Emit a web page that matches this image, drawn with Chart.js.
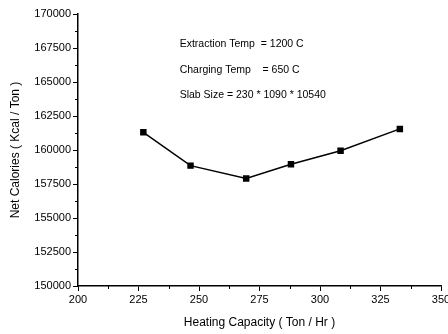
<!DOCTYPE html>
<html>
<head>
<meta charset="utf-8">
<script src="https://cdn.jsdelivr.net/npm/chart.js@4/dist/chart.umd.min.js"></script>
<style>
  html, body { margin: 0; padding: 0; background: #fff; }
  #wrap { width: 448px; height: 334px; }
</style>
</head>
<body>
<div id="wrap"><canvas id="chart" width="448" height="334"></canvas></div>
<script>
// heating capacity (Ton/Hr) vs net calories (Kcal/Ton)
var capacity = [227, 246.5, 269.5, 288, 308.5, 333];
var calories = [161300, 158850, 157900, 158950, 159950, 161550];

var xTitle = 'Heating Capacity ( Ton / Hr )';
var yTitle = 'Net Calories ( Kcal / Ton )';
var notes = ['Extraction Temp  = 1200 C', 'Charging Temp    = 650 C', 'Slab Size = 230 * 1090 * 10540'];
// where the notes sit, in data units
var noteX = 242;
var noteY = [167800, 165850, 164050];

var font = 'Liberation Sans, Arial, sans-serif';

var points = [];
for (var i = 0; i < capacity.length; i++) {
  points.push({x: capacity[i], y: calories[i]});
}

function plain(v) { return String(v); }

// minor ticks + notes
var extras = {
  id: 'extras',
  afterDraw: function(c) {
    var ctx = c.ctx, xs = c.scales.x, ys = c.scales.y;
    ctx.save();
    ctx.strokeStyle = '#000';
    ctx.lineWidth = 1;
    ctx.beginPath();
    for (var v = 212.5; v < 350; v += 25) {
      var px = Math.round(xs.getPixelForValue(v)) + 0.5;
      ctx.moveTo(px, ys.bottom);
      ctx.lineTo(px, ys.bottom + 3);
    }
    for (var w = 151250; w < 170000; w += 2500) {
      var py = Math.round(ys.getPixelForValue(w)) + 0.5;
      ctx.moveTo(xs.left, py);
      ctx.lineTo(xs.left - 3, py);
    }
    ctx.stroke();
    ctx.fillStyle = '#000';
    ctx.font = '10.5px ' + font;
    ctx.textBaseline = 'middle';
    for (var k = 0; k < notes.length; k++) {
      ctx.fillText(notes[k], xs.getPixelForValue(noteX), ys.getPixelForValue(noteY[k]));
    }
    ctx.restore();
  }
};

var chart = new Chart(document.getElementById('chart'), {
  type: 'scatter',
  data: {
    datasets: [{
      data: points,
      showLine: true,
      borderColor: '#000',
      backgroundColor: '#000',
      borderWidth: 1.5,
      pointStyle: 'rect',
      pointRadius: 3.5,
      pointHoverRadius: 3.5
    }]
  },
  options: {
    responsive: false,
    animation: false,
    layout: {padding: {left: 4, right: 7, top: 14, bottom: 0}},
    plugins: {legend: {display: false}, tooltip: {enabled: false}},
    scales: {
      x: {
        type: 'linear',
        min: 200, max: 350,
        border: {color: '#000', width: 1.5},
        grid: {drawOnChartArea: false, color: '#000', tickLength: 5},
        ticks: {stepSize: 25, color: '#000', padding: 2, maxRotation: 0, callback: plain, font: {family: font, size: 11}},
        title: {display: true, text: xTitle, color: '#000', font: {family: font, size: 12}, padding: {top: 0}},
        afterFit: function(s) { s.height = 48; s.paddingRight = 0; s.paddingLeft = 0; }
      },
      y: {
        type: 'linear',
        min: 150000, max: 170000,
        border: {color: '#000', width: 1.5},
        grid: {drawOnChartArea: false, color: '#000', tickLength: 5},
        ticks: {stepSize: 2500, color: '#000', padding: 2, callback: plain, font: {family: font, size: 11}},
        title: {display: true, text: yTitle, color: '#000', font: {family: font, size: 12}, padding: {bottom: 4}},
        afterFit: function(s) { s.width = 74; s.paddingTop = 0; s.paddingBottom = 0; }
      }
    }
  },
  plugins: [extras]
});
</script>
</body>
</html>
